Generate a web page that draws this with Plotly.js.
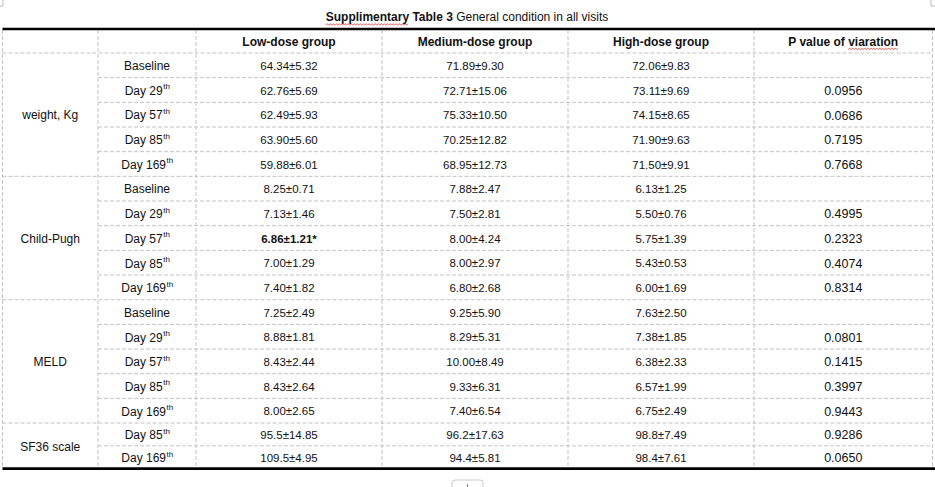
<!DOCTYPE html>
<html>
<head>
<meta charset="utf-8">
<script src="https://cdn.plot.ly/plotly-3.0.1.min.js"></script>
<style>html,body{margin:0;padding:0;background:#fff;}#chart{width:935px;height:487px;}</style>
</head>
<body>
<div id="chart"></div>
<script>
// ---- data ----
const titleBold = "Supplimentary Table 3";
const titleRest = "General condition in all visits";
const headers = ["Low-dose group", "Medium-dose group", "High-dose group", "P value of viaration"];
const groups = ["weight, Kg", "Child-Pugh", "MELD", "SF36 scale"];
const groupSizes = [5, 5, 5, 2];
const visits = ["Baseline", "Day 29", "Day 57", "Day 85", "Day 169",
                "Baseline", "Day 29", "Day 57", "Day 85", "Day 169",
                "Baseline", "Day 29", "Day 57", "Day 85", "Day 169",
                "Day 85", "Day 169"];
const ordinalSuffix = ["", "th", "th", "th", "th",
                       "", "th", "th", "th", "th",
                       "", "th", "th", "th", "th",
                       "th", "th"];
const lowDose = ["64.34±5.32", "62.76±5.69", "62.49±5.93", "63.90±5.60", "59.88±6.01",
                 "8.25±0.71", "7.13±1.46", "6.86±1.21*", "7.00±1.29", "7.40±1.82",
                 "7.25±2.49", "8.88±1.81", "8.43±2.44", "8.43±2.64", "8.00±2.65",
                 "95.5±14.85", "109.5±4.95"];
const lowDoseBold = [7];
const mediumDose = ["71.89±9.30", "72.71±15.06", "75.33±10.50", "70.25±12.82", "68.95±12.73",
                    "7.88±2.47", "7.50±2.81", "8.00±4.24", "8.00±2.97", "6.80±2.68",
                    "9.25±5.90", "8.29±5.31", "10.00±8.49", "9.33±6.31", "7.40±6.54",
                    "96.2±17.63", "94.4±5.81"];
const highDose = ["72.06±9.83", "73.11±9.69", "74.15±8.65", "71.90±9.63", "71.50±9.91",
                  "6.13±1.25", "5.50±0.76", "5.75±1.39", "5.43±0.53", "6.00±1.69",
                  "7.63±2.50", "7.38±1.85", "6.38±2.33", "6.57±1.99", "6.75±2.49",
                  "98.8±7.49", "98.4±7.61"];
const pValues = ["", "0.0956", "0.0686", "0.7195", "0.7668",
                 "", "0.4995", "0.2323", "0.4074", "0.8314",
                 "", "0.0801", "0.1415", "0.3997", "0.9443",
                 "0.9286", "0.0650"];

// ---- layout geometry (pixel-like axis units) ----
const W = 935, H = 487;
const colEdges = [2.5, 98, 196, 382, 568, 754, 932.5];
const tableTop = 29, headerBottom = 53;
const TEXT_DY = 1.8;
const rowHeights = [];
groupSizes.forEach((n, g) => { for (let i = 0; i < n; i++) rowHeights.push(g === 3 ? 22.8 : 24.67); });
const rowEdges = [headerBottom];
rowHeights.forEach(h => rowEdges.push(rowEdges[rowEdges.length - 1] + h));
const tableBottom = rowEdges[rowEdges.length - 1];
const rowCenters = rowHeights.map((h, i) => (rowEdges[i] + rowEdges[i + 1]) / 2 + TEXT_DY);
const colCenter = c => (colEdges[c] + colEdges[c + 1]) / 2;

const FONT = "Liberation Sans, Arial, sans-serif";
const INK = "#111111";
const GRID = "#c4c4c4";
const DASH = "4px,2px";

const groupStart = [];
let acc = 0;
groupSizes.forEach(n => { groupStart.push(acc); acc += n; });
const groupCenters = groupSizes.map((n, g) => (rowEdges[groupStart[g]] + rowEdges[groupStart[g] + n]) / 2 + TEXT_DY);

// text width measurement
const ctx = document.createElement("canvas").getContext("2d");
function tw(t, size, weight) { ctx.font = (weight || "normal") + " " + size + "px " + FONT; return ctx.measureText(t).width; }

function textTrace(xs, ys, texts, size, weight) {
  const keep = texts.map((t, i) => i).filter(i => texts[i] !== "");
  return {
    type: "scatter", mode: "text",
    x: keep.map(i => xs[i]), y: keep.map(i => ys[i]), text: keep.map(i => texts[i]),
    textposition: "middle center", hoverinfo: "skip", showlegend: false,
    textfont: {family: FONT, size: size, color: INK, weight: weight || "normal"}, cliponaxis: false
  };
}

const traces = [];
// title (bold part + normal part, centred as one line)
const TS = 12;
const wB = tw(titleBold, TS, "bold"), wSp = tw(" ", TS), wR = tw(titleRest, TS);
const tStart = 467 - (wB + wSp + wR) / 2;
traces.push(textTrace([tStart + wB / 2], [17.5], [titleBold], TS, "bold"));
traces.push(textTrace([tStart + wB + wSp + wR / 2], [17.5], [titleRest], TS));
// header
traces.push(textTrace(headers.map((_, c) => colCenter(c + 2)), headers.map(() => (tableTop + headerBottom) / 2 + 2), headers, 12, "bold"));
// group labels
traces.push(textTrace(groups.map(() => colCenter(0)), groupCenters, groups, 12));
// visits with small raised suffix
const VS = 12, SS = 8;
const vMainX = [], vSufX = [], vSufY = [];
visits.forEach((v, i) => {
  const mw = tw(v, VS), sw = ordinalSuffix[i] ? tw(ordinalSuffix[i], SS) : 0;
  const start = colCenter(1) - (mw + sw) / 2;
  vMainX.push(start + mw / 2);
  vSufX.push(start + mw + sw / 2 + 0.5);
  vSufY.push(rowCenters[i] - 4.5);
});
traces.push(textTrace(vMainX, rowCenters, visits, VS));
traces.push(textTrace(vSufX, vSufY, ordinalSuffix, SS));
// value columns
const lowPlain = lowDose.map((v, i) => lowDoseBold.includes(i) ? "" : v);
const lowBoldOnly = lowDose.map((v, i) => lowDoseBold.includes(i) ? v : "");
traces.push(textTrace(lowDose.map(() => colCenter(2)), rowCenters, lowPlain, 11.5));
traces.push(textTrace(lowDose.map(() => colCenter(2)), rowCenters, lowBoldOnly, 11.5, "bold"));
traces.push(textTrace(mediumDose.map(() => colCenter(3)), rowCenters, mediumDose, 11.5));
traces.push(textTrace(highDose.map(() => colCenter(4)), rowCenters, highDose, 11.5));
traces.push(textTrace(pValues.map(() => colCenter(5)), rowCenters, pValues, 12.5));

// ---- shapes ----
const shapes = [];
function line(x0, y0, x1, y1, color, width, dash) {
  shapes.push({type: "line", xref: "x", yref: "y", x0, y0, x1, y1, line: {color, width, dash: dash || "solid"}});
}
colEdges.forEach(x => line(x, tableTop + 1, x, tableBottom, GRID, 1, DASH));
line(colEdges[0], headerBottom, colEdges[6], headerBottom, GRID, 1, DASH);
for (let i = 1; i < rowEdges.length - 1; i++) {
  const isGroup = groupStart.includes(i);
  line(isGroup ? colEdges[0] : colEdges[1], rowEdges[i], colEdges[6], rowEdges[i], GRID, 1, DASH);
}
line(colEdges[0], tableTop, W, tableTop, "#000", 2.6);
line(colEdges[0], tableBottom, W, tableBottom, "#000", 2.6);

// spell-check wavy underlines
function wavy(x0, x1, y) {
  let d = "M" + x0.toFixed(1) + "," + y;
  let up = true;
  for (let x = x0 + 1.5; x <= x1; x += 1.5) { d += " L" + x.toFixed(1) + "," + (up ? y - 1.2 : y); up = !up; }
  shapes.push({type: "path", xref: "x", yref: "y", path: d, line: {color: "#d03030", width: 0.8}});
}
wavy(tStart, tStart + tw("Supplimentary", TS, "bold"), 25);
const hw = tw(headers[3], 12, "bold");
const vStart = colCenter(5) + hw / 2 - tw("viaration", 12, "bold");
wavy(vStart, colCenter(5) + hw / 2, 49.5);

// page corner marks & insert handle
line(3, 0, 3, 6, "#bbb", 1); line(0, 6, 3, 6, "#bbb", 1);
line(931, 0, 931, 6, "#bbb", 1); line(931, 6, 935, 6, "#bbb", 1);
shapes.push({type: "path", xref: "x", yref: "y",
  path: "M452,490 L452,483 Q452,480 455,480 L480,480 Q483,480 483,483 L483,490",
  line: {color: "#c8c8c8", width: 1}});
line(467.5, 484, 467.5, 490, "#888", 1);

const layout = {
  width: W, height: H,
  margin: {l: 0, r: 0, t: 0, b: 0, pad: 0},
  paper_bgcolor: "#fff", plot_bgcolor: "#fff",
  xaxis: {range: [0, W], visible: false, fixedrange: true},
  yaxis: {range: [H, 0], visible: false, fixedrange: true},
  showlegend: false,
  shapes: shapes
};

Plotly.newPlot("chart", traces, layout, {staticPlot: true, displayModeBar: false});
</script>
</body>
</html>
